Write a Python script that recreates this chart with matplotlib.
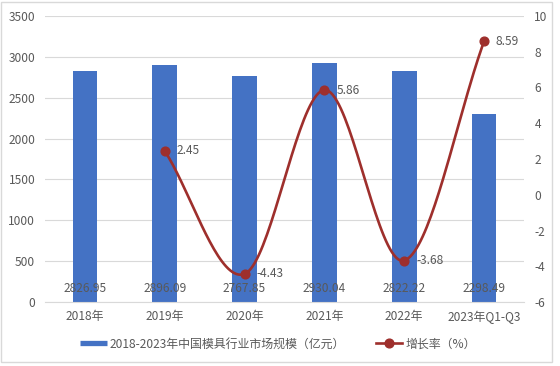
import matplotlib
matplotlib.use("Agg")
import matplotlib.pyplot as plt
import numpy as np
from matplotlib.lines import Line2D
from matplotlib.patches import Rectangle

plt.rcParams['font.family'] = ['Noto Sans CJK SC', 'DejaVu Sans']
plt.rcParams['axes.unicode_minus'] = False

categories = ["2018年", "2019年", "2020年", "2021年", "2022年", "2023年Q1-Q3"]
market_size = [2826.95, 2896.09, 2767.85, 2930.04, 2822.22, 2298.49]
growth_cats = ["2019年", "2020年", "2021年", "2022年", "2023年Q1-Q3"]
growth_rate = [2.45, -4.43, 5.86, -3.68, 8.59]
bar_label = "2018-2023年中国模具行业市场规模（亿元）"
line_label = "增长率（%）"

BAR_C = "#4472C4"
LINE_C = "#9E2F2C"
TXT = "#595959"
GRID = "#D9D9D9"
FS = 8.6

fig = plt.figure(figsize=(5.6, 3.66), dpi=100)
ax = fig.add_axes([45 / 560, 1 - 302 / 366, 479 / 560, 286 / 366])
ax2 = ax.twinx()

x = np.arange(len(categories))
ax.bar(x, market_size, width=0.31, color=BAR_C, zorder=2)
for xi, v in zip(x, market_size):
    ax.text(xi, 170, f"{v:.2f}", ha="center", va="center", fontsize=FS, color=TXT, zorder=3)

ax.set_ylim(0, 3500)
ax.set_yticks(np.arange(0, 3501, 500))
ax.set_xlim(-0.5, len(categories) - 0.5)
ax.set_xticks(x)
ax.set_xticklabels(categories)
ax.grid(axis="y", color=GRID, linewidth=0.8, zorder=0)
ax.set_axisbelow(True)
for s in ["top", "right", "left"]:
    ax.spines[s].set_visible(False)
ax.spines["bottom"].set_color(GRID)
ax.tick_params(axis="both", length=0, labelsize=FS, labelcolor=TXT)
ax.tick_params(axis="x", pad=6)
ax.tick_params(axis="y", pad=7)

# growth line, smoothed (Bezier through points, like Excel smooth line)
gx = np.array([categories.index(c) for c in growth_cats], dtype=float)
gy = np.array(growth_rate, dtype=float)
px = np.concatenate([[2 * gx[0] - gx[1]], gx, [2 * gx[-1] - gx[-2]]])
py = np.concatenate([[2 * gy[0] - gy[1]], gy, [2 * gy[-1] - gy[-2]]])
sx, sy = [], []
t = np.linspace(0, 1, 40)
for i in range(1, len(px) - 2):
    p0, p1, p2, p3 = [np.array([px[j], py[j]]) for j in (i - 1, i, i + 1, i + 2)]
    c1 = p1 + (p2 - p0) / 6
    c2 = p2 - (p3 - p1) / 6
    for tt in t:
        b = ((1 - tt) ** 3) * p1 + 3 * ((1 - tt) ** 2) * tt * c1 + 3 * (1 - tt) * tt ** 2 * c2 + tt ** 3 * p2
        sx.append(b[0]); sy.append(b[1])
ax2.plot(sx, sy, color=LINE_C, linewidth=1.9, zorder=4)
ax2.plot(gx, gy, "o", color=LINE_C, markersize=6.3, zorder=5)
for xi, v in zip(gx, gy):
    ax2.annotate(f"{v:.2f}", (xi, v), xytext=(8.5, 0), textcoords="offset points",
                 ha="left", va="center", fontsize=FS, color=TXT, zorder=6)

ax2.set_ylim(-6, 10)
ax2.set_yticks(np.arange(-6, 11, 2))
for s in ["top", "right", "left", "bottom"]:
    ax2.spines[s].set_visible(False)
ax2.tick_params(axis="y", length=0, labelsize=FS, labelcolor=TXT, pad=7.5)

handles = [Line2D([0], [0], color=BAR_C, linewidth=3.8, solid_capstyle="butt"),
           Line2D([0], [0], color=LINE_C, linewidth=1.9, marker="o", markersize=6.3)]
fig.legend(handles, [bar_label, line_label], loc="center", bbox_to_anchor=(278 / 560, 1 - 344 / 366),
           ncol=2, frameon=False, fontsize=FS, labelcolor=TXT, handlelength=2.2,
           columnspacing=2.6, handletextpad=0.25)

fig.patches.append(Rectangle((1 / 560, 1 - 362 / 366), 551 / 560, 360 / 366, transform=fig.transFigure,
                             fill=False, edgecolor=GRID, linewidth=1))

fig.savefig("out.png", dpi=100)
